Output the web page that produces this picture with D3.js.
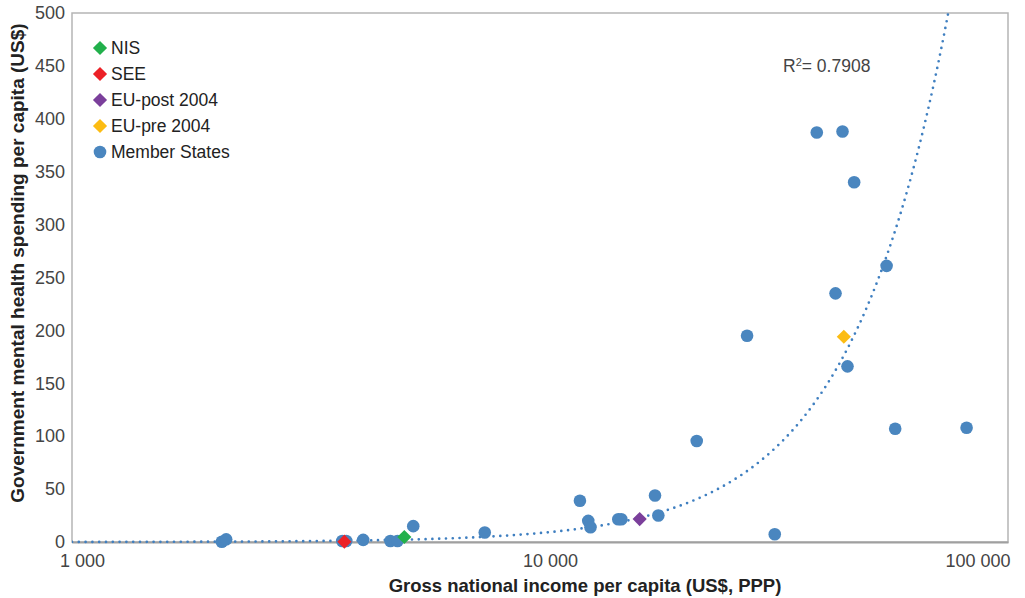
<!DOCTYPE html>
<html>
<head>
<meta charset="utf-8">
<script src="https://cdn.jsdelivr.net/npm/d3@7"></script>
<style>
  body { margin: 0; background: #fff; }
  svg { font-family: "Liberation Sans", Arial, sans-serif; }
</style>
</head>
<body>
<svg id="chart"></svg>
<script>
// Member States: GNI per capita (US$, PPP) and mental health spending per capita (US$)
const memberGni = [2090, 2135, 3780, 3855, 4190, 4790, 4960, 5360, 7620, 12170, 12680, 12820,
  14700, 14920, 17610, 17900, 21620, 27700, 31740, 39030, 44300, 46910, 55030, 42800, 45400, 57410, 81570];
const memberSpend = [0.3, 2.5, 1, 1, 2, 1, 1, 15, 9, 39, 20, 14,
  21.5, 21.5, 44, 25, 95.5, 195, 7.3, 387, 388, 340, 261, 235, 166, 107, 108];

// group averages (diamonds)
const groupNames = ["NIS", "SEE", "EU-post 2004", "EU-pre 2004"];
const groupGni = [5130, 3820, 16330, 44590];
const groupSpend = [4.7, 0.3, 21.7, 194];

const xTicks = [1000, 10000, 100000];
const yTicks = [0, 50, 100, 150, 200, 250, 300, 350, 400, 450, 500];

// power trendline y = a * x^b, as printed on the chart
const trendA = 6.43e-8;
const trendB = 2.03;
const r2Label = "0.7908";

const groupColor = {
  "NIS": "#22b04b",
  "SEE": "#ec2127",
  "EU-post 2004": "#7b3f9b",
  "EU-pre 2004": "#fcbc13"
};
const blue = "#4a86bf";

const W = 1025, H = 598;
const margin = { top: 13, right: 17, bottom: 56, left: 72 };
const width = W - margin.left - margin.right;
const height = H - margin.top - margin.bottom;

const svg = d3.select("#chart").attr("width", W).attr("height", H);
const g = svg.append("g").attr("transform", `translate(${margin.left},${margin.top})`);

const x = d3.scaleLog().domain([1000, 100000]).range([0, width]);
const y = d3.scaleLinear().domain([0, 500]).range([height, 0]);

// plot border
g.append("rect")
  .attr("x", 0).attr("y", 0)
  .attr("width", width).attr("height", height)
  .attr("fill", "none")
  .attr("stroke", "#b5b5b5")
  .attr("stroke-width", 1.5);

// y axis labels
const yAxis = g.append("g")
  .call(d3.axisLeft(y).tickValues(yTicks).tickSize(0).tickPadding(7));
yAxis.select(".domain").remove();
yAxis.selectAll("text")
  .attr("fill", "#444")
  .style("font-size", "18px");

// x axis
const xAxis = g.append("g")
  .attr("transform", `translate(0,${height})`)
  .call(d3.axisBottom(x).tickValues(xTicks).tickSize(0).tickPadding(12)
    .tickFormat(d => d3.format(",")(d).replace(/,/g, " ")));
xAxis.select(".domain")
  .attr("stroke", "#a0a0a0")
  .attr("stroke-width", 2);
xAxis.selectAll("text")
  .attr("fill", "#444")
  .style("font-size", "18px")
  .attr("dx", (d, i) => i === xTicks.length - 1 ? "2" : "10")
  .attr("text-anchor", (d, i) => i === xTicks.length - 1 ? "end" : "middle");

// trendline
const trendPts = d3.range(0, 201).map(i => 1000 * Math.pow(100, i / 200));
svg.append("clipPath").attr("id", "clip")
  .append("rect").attr("width", width).attr("height", height + 2);

g.append("path")
  .datum(trendPts)
  .attr("clip-path", "url(#clip)")
  .attr("fill", "none")
  .attr("stroke", "#3f7fc0")
  .attr("stroke-width", 2.7)
  .attr("stroke-linecap", "round")
  .attr("stroke-dasharray", "0 6.8")
  .attr("d", d3.line().x(d => x(d)).y(d => y(Math.min(trendA * Math.pow(d, trendB), 600))));

// member state points
g.selectAll(".member")
  .data(memberGni)
  .join("circle")
  .attr("class", "member")
  .attr("cx", d => x(d))
  .attr("cy", (d, i) => y(memberSpend[i]))
  .attr("r", 6.3)
  .attr("fill", blue);

// group diamonds
const diamond = d3.symbol().type(d3.symbolDiamond2).size(128);
g.selectAll(".group")
  .data(groupNames)
  .join("path")
  .attr("class", "group")
  .attr("transform", (d, i) => `translate(${x(groupGni[i])},${y(groupSpend[i])})`)
  .attr("d", diamond)
  .attr("fill", d => groupColor[d]);

// R² label
const r2 = svg.append("text")
  .attr("x", 783).attr("y", 72)
  .attr("fill", "#444")
  .style("font-size", "17.5px");
r2.append("tspan").text("R");
r2.append("tspan").attr("dy", -6).style("font-size", "11px").text("2");
r2.append("tspan").attr("dy", 6).text("= " + r2Label);

// legend
const legendItems = groupNames.concat(["Member States"]);
const legend = svg.append("g").attr("transform", "translate(100,48)");
const rows = legend.selectAll("g")
  .data(legendItems)
  .join("g")
  .attr("transform", (d, i) => `translate(0,${i * 26})`);
rows.each(function(d, i) {
  const row = d3.select(this);
  if (i < groupNames.length) {
    row.append("path").attr("d", diamond).attr("fill", groupColor[d]);
  } else {
    row.append("circle").attr("r", 6.3).attr("fill", blue);
  }
});
rows.append("text")
  .attr("x", 11)
  .attr("dy", "0.36em")
  .attr("fill", "#222")
  .style("font-size", "17.5px")
  .text(d => d);

// axis titles
svg.append("text")
  .attr("x", 585)
  .attr("y", 592)
  .attr("text-anchor", "middle")
  .attr("fill", "#222")
  .style("font-size", "18.5px")
  .style("font-weight", "bold")
  .text("Gross national income per capita (US$, PPP)");

svg.append("text")
  .attr("transform", `translate(24,263)rotate(-90)`)
  .attr("text-anchor", "middle")
  .attr("fill", "#222")
  .style("font-size", "19px")
  .style("font-weight", "bold")
  .text("Government mental health spending per capita (US$)");
</script>
</body>
</html>
